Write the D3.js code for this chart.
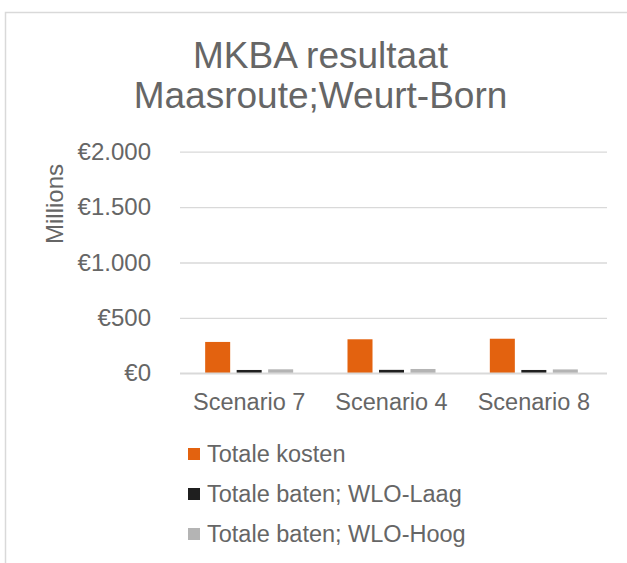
<!DOCTYPE html>
<html>
<head>
<meta charset="utf-8">
<script src="https://cdn.jsdelivr.net/npm/d3@7"></script>
<style>
  html, body { margin: 0; padding: 0; background: #fff; }
  svg { display: block; }
  text { font-family: "Liberation Sans", Arial, sans-serif; fill: #666666; }
</style>
</head>
<body>
<svg id="chart" width="627" height="563"></svg>
<script>
const titleLines = ["MKBA resultaat", "Maasroute;Weurt-Born"];
const categories = ["Scenario 7", "Scenario 4", "Scenario 8"];
const seriesNames = ["Totale kosten", "Totale baten; WLO-Laag", "Totale baten; WLO-Hoog"];
const totaleKosten = [283, 307, 312];
const batenLaag = [30, 31, 30];
const batenHoog = [36, 39, 35];
const yTicks = [0, 500, 1000, 1500, 2000];
const yTickLabels = ["€0", "€500", "€1.000", "€1.500", "€2.000"];
const yAxisTitle = "Millions";
const colors = ["#E3620F", "#1F1F1F", "#B4B4B4"];

const seriesValues = [totaleKosten, batenLaag, batenHoog];

const svg = d3.select("#chart");

// chart border
svg.append("rect")
  .attr("x", 5.5).attr("y", 12.5)
  .attr("width", 700).attr("height", 700)
  .attr("fill", "none").attr("stroke", "#d9d9d9").attr("stroke-width", 1.5);

// title
svg.append("text")
  .attr("text-anchor", "middle")
  .style("font-size", "37px")
  .selectAll("tspan").data(titleLines).join("tspan")
  .attr("x", 320.5)
  .attr("y", (d, i) => 68 + i * 40)
  .text(d => d);

const plotLeft = 180, plotRight = 607, plotTop = 151.7, plotBottom = 373.3;

const y = d3.scaleLinear().domain([0, 2000]).range([plotBottom, plotTop]);
const x0 = d3.scaleBand().domain(categories).range([plotLeft - 2, plotRight - 2])
  .paddingInner(0.3817).paddingOuter(0.19085);
const x1 = d3.scaleBand().domain(seriesNames).range([0, x0.bandwidth()]).paddingInner(0.206);

// gridlines
const yAxis = d3.axisLeft(y).tickValues(yTicks)
  .tickSize(-(plotRight - plotLeft))
  .tickFormat((d, i) => yTickLabels[i])
  .tickPadding(29);
const gy = svg.append("g").attr("transform", `translate(${plotLeft},0)`).call(yAxis);
gy.select(".domain").remove();
gy.selectAll(".tick line").attr("stroke", "#d9d9d9").attr("stroke-width", 1.3);
gy.selectAll(".tick text").style("font-size", "24px").attr("fill", "#666666")
  .style("font-family", '"Liberation Sans", Arial, sans-serif');

// y axis title
svg.append("text")
  .attr("transform", `translate(63,204) rotate(-90)`)
  .attr("text-anchor", "middle")
  .style("font-size", "24px")
  .text(yAxisTitle);

// bars
const groups = svg.append("g").selectAll("g").data(categories).join("g")
  .attr("transform", d => `translate(${x0(d)},0)`);
groups.selectAll("rect")
  .data((c, ci) => seriesNames.map((s, si) => ({ s, si, v: seriesValues[si][ci] })))
  .join("rect")
  .attr("x", d => x1(d.s))
  .attr("width", x1.bandwidth())
  .attr("y", d => y(d.v))
  .attr("height", d => y(0) - y(d.v))
  .attr("fill", d => colors[d.si]);

// baseline
svg.append("line")
  .attr("x1", plotLeft).attr("x2", plotRight)
  .attr("y1", plotBottom).attr("y2", plotBottom)
  .attr("stroke", "#d9d9d9").attr("stroke-width", 1.5);

// x axis labels
const xAxis = d3.axisBottom(x0).tickSize(0).tickPadding(20);
const gx = svg.append("g").attr("transform", `translate(0,${plotBottom})`).call(xAxis);
gx.select(".domain").remove();
gx.selectAll(".tick text").style("font-size", "23.5px").attr("fill", "#666666")
  .style("font-family", '"Liberation Sans", Arial, sans-serif');

// legend
const legend = svg.append("g").selectAll("g").data(seriesNames).join("g")
  .attr("transform", (d, i) => `translate(188,${454 + i * 40})`);
legend.append("rect")
  .attr("x", 0).attr("y", -6).attr("width", 12).attr("height", 12)
  .attr("fill", (d, i) => colors[i]);
legend.append("text")
  .attr("x", 19).attr("y", 8)
  .style("font-size", "23.5px")
  .text(d => d);
</script>
</body>
</html>
